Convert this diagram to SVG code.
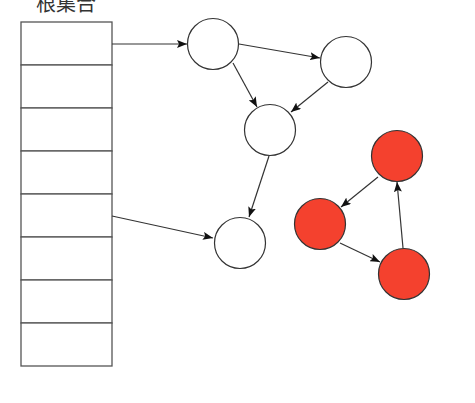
<svg xmlns="http://www.w3.org/2000/svg" width="475" height="403" viewBox="0 0 475 403">
<style>
.cell{fill:#fff;stroke:#555;stroke-width:1.3}
.node{fill:#fff;stroke:#333;stroke-width:1.2}
.red{fill:#f4412e;stroke:#333;stroke-width:1.2}
.edge{stroke:#333;stroke-width:1.2;fill:none;marker-end:url(#ah)}
.title{font-family:"Noto Sans CJK SC","Noto Sans",sans-serif;font-size:20px;fill:#333}
</style>
<defs>
<marker id="ah" viewBox="0 0 10 8" refX="10" refY="4" markerWidth="10" markerHeight="8" markerUnits="userSpaceOnUse" orient="auto">
<path d="M0,0 L10,4 L0,8 L2,4 Z" fill="#111"/>
</marker>
</defs>
<rect width="475" height="403" fill="#fff"/>
<text class="title" x="66" y="11" text-anchor="middle">根集合</text>
<g id="root-set">
<rect class="cell" x="21" y="22" width="91" height="43"/>
<rect class="cell" x="21" y="65" width="91" height="43"/>
<rect class="cell" x="21" y="108" width="91" height="43"/>
<rect class="cell" x="21" y="151" width="91" height="43"/>
<rect class="cell" x="21" y="194" width="91" height="43"/>
<rect class="cell" x="21" y="237" width="91" height="43"/>
<rect class="cell" x="21" y="280" width="91" height="43"/>
<rect class="cell" x="21" y="323" width="91" height="43"/>
</g>
<g id="connectors">
<line class="edge" x1="112" y1="44" x2="187" y2="44"/>
<line class="edge" x1="239" y1="44" x2="320" y2="58"/>
<line class="edge" x1="233" y1="63" x2="257" y2="107"/>
<line class="edge" x1="328" y1="82" x2="291" y2="112"/>
<line class="edge" x1="269" y1="156" x2="249" y2="217"/>
<line class="edge" x1="112" y1="216" x2="213" y2="238"/>
<line class="edge" x1="378" y1="177" x2="341" y2="207"/>
<line class="edge" x1="340" y1="243" x2="380" y2="262"/>
<line class="edge" x1="403" y1="248" x2="397" y2="182"/>
</g>
<g id="node-a"><circle class="node" cx="213" cy="44" r="25.5"/></g>
<g id="node-b"><circle class="node" cx="346" cy="62" r="25.5"/></g>
<g id="node-c"><circle class="node" cx="270" cy="130" r="25.5"/></g>
<g id="node-d"><circle class="node" cx="240" cy="243" r="25.5"/></g>
<g id="node-r1"><circle class="red" cx="397" cy="156" r="25.5"/></g>
<g id="node-r2"><circle class="red" cx="320" cy="224" r="25.5"/></g>
<g id="node-r3"><circle class="red" cx="404" cy="274" r="25.5"/></g>
</svg>
